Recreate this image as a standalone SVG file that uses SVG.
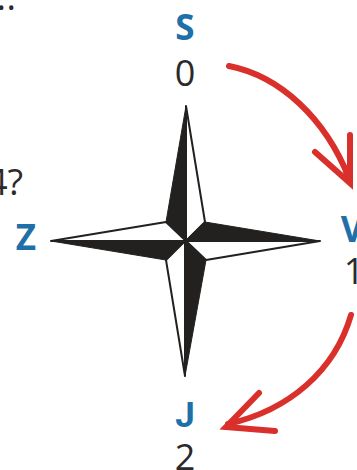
<svg xmlns="http://www.w3.org/2000/svg" width="357" height="470" viewBox="0 0 357 470">
<style>
.l{font-family:"Open Sans","Noto Sans",sans-serif;font-size:35px;font-weight:700;fill:#1f6fa8;text-anchor:middle}
.n{font-family:"Open Sans","Noto Sans",sans-serif;font-size:36px;fill:#2b2a29;text-anchor:middle}
.t{font-family:"Open Sans","Noto Sans",sans-serif;font-size:36px;fill:#2b2a29}
.a{fill:none;stroke:#d9302c;stroke-width:6;stroke-linecap:round;stroke-linejoin:miter}
.w{fill:#fff;stroke:#222120;stroke-width:2;stroke-linejoin:round}
.b{fill:#222120;stroke:#222120;stroke-width:1}
</style>
<text class="t" x="-3.5" y="10" letter-spacing="0.5">..</text>
<text class="t" x="-13" y="195">4?</text>
<g id="compass">
<path class="b" d="M186 106L166 222L180 239L186 241Z"/>
<path class="w" d="M186 106L205 222L186 241Z"/>
<path class="b" d="M320 241L205 222L190 236L186 241Z"/>
<path class="w" d="M320 241L206 260L186 241Z"/>
<path class="b" d="M185 376L206 260L191 246L185 241Z"/>
<path class="w" d="M185 376L166 260L185 241Z"/>
<path class="b" d="M51 241L166 260L180 246L186 241Z"/>
<path class="w" d="M51 241L166 222L186 241Z"/>
</g>
<g id="node-s"><text class="l" x="185" y="40">S</text><text class="n" x="185" y="86">0</text></g>
<g id="node-v"><text class="l" x="352" y="242">V</text><text class="n" x="354" y="284">1</text></g>
<g id="node-j"><text class="l" x="185" y="427" style="font-family:Roboto,sans-serif">J</text><text class="n" x="185" y="470">2</text></g>
<g id="node-z"><text class="l" x="26" y="250">Z</text></g>
<g id="connectors">
<path class="a" d="M229 66C280 76 325 118 349 178"/>
<path class="a" d="M315 152L350 183L350 135"/>
<path d="M343 172L353 188L350 160Z" fill="#d9302c"/>
<path class="a" d="M351 315C335 370 290 410 228 424"/>
<path class="a" d="M259 393L226 427L275 431"/>
</g>
</svg>
